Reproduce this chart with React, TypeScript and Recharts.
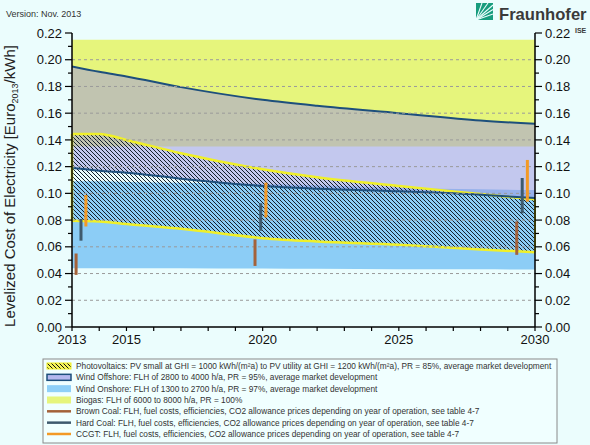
import { ComposedChart, Area, XAxis, YAxis, ReferenceLine } from 'recharts'

const YEARS = [2013, 2014, 2015, 2017, 2020, 2022, 2025, 2028, 2030]

const BIOGAS_LOW = [0.135, 0.135, 0.135, 0.135, 0.135, 0.135, 0.135, 0.135, 0.135]
const BIOGAS_HIGH = [0.215, 0.215, 0.215, 0.215, 0.215, 0.215, 0.215, 0.215, 0.215]
const OFFSHORE_LOW = [0.119, 0.117, 0.1155, 0.111, 0.1055, 0.1035, 0.1015, 0.099, 0.0965]
const OFFSHORE_HIGH = [0.195, 0.191, 0.1875, 0.1795, 0.17, 0.1655, 0.16, 0.1545, 0.152]
const ONSHORE_LOW = [0.044, 0.044, 0.044, 0.044, 0.0437, 0.0435, 0.0433, 0.0432, 0.043]
const ONSHORE_HIGH = [0.109, 0.109, 0.1085, 0.108, 0.107, 0.106, 0.104, 0.103, 0.1025]
const PV_LOW = [0.0795, 0.079, 0.077, 0.0735, 0.0665, 0.064, 0.0615, 0.058, 0.056]
const PV_HIGH = [0.1445, 0.1445, 0.14, 0.13, 0.118, 0.112, 0.1055, 0.0995, 0.0955]

// fossil ranges, drawn as short vertical bars
const BROWN_COAL = [
  { year: 2013.15, low: 0.039, high: 0.055 },
  { year: 2019.72, low: 0.0457, high: 0.0656 },
  { year: 2029.33, low: 0.054, high: 0.079 },
]
const HARD_COAL = [
  { year: 2013.33, low: 0.0646, high: 0.0808 },
  { year: 2019.93, low: 0.072, high: 0.0926 },
  { year: 2029.53, low: 0.085, high: 0.1115 },
]
const CCGT = [
  { year: 2013.51, low: 0.0752, high: 0.0988 },
  { year: 2020.12, low: 0.082, high: 0.108 },
  { year: 2029.72, low: 0.0938, high: 0.125 },
]

const X_TICKS = [2013, 2014, 2015, 2016, 2017, 2018, 2019, 2020, 2021, 2022, 2023, 2024, 2025, 2026, 2027, 2028, 2029, 2030]
const X_LABELS = [2013, 2015, 2020, 2025, 2030]
const Y_TICKS = [0, 0.01, 0.02, 0.03, 0.04, 0.05, 0.06, 0.07, 0.08, 0.09, 0.1, 0.11, 0.12, 0.13, 0.14, 0.15, 0.16, 0.17, 0.18, 0.19, 0.2, 0.21, 0.22]
const GRID = [0.02, 0.04, 0.06, 0.08, 0.1, 0.12, 0.14, 0.16, 0.18, 0.2]

const COLORS = {
  bg: '#ebfdfd',
  biogas: '#e6f57c',
  onshore: '#8ccdf6',
  offshore: '#a097e0',
  offshoreLine: '#1d4f7c',
  pvLine: '#f0f028',
  hatch: '#14202c',
  brown: '#a4623a',
  hard: '#3e5a6e',
  ccgt: '#f39a26',
}

const LEGEND = [
  { kind: 'pv', label: 'Photovoltaics: PV small at GHI = 1000 kWh/(m²a) to PV utility at GHI = 1200 kWh/(m²a), PR = 85%, average market development' },
  { kind: 'offshore', label: 'Wind Offshore: FLH of 2800 to 4000 h/a, PR = 95%, average market development' },
  { kind: 'onshore', label: 'Wind Onshore: FLH of 1300 to 2700 h/a, PR = 97%, average market development' },
  { kind: 'biogas', label: 'Biogas: FLH of 6000 to 8000 h/a, PR = 100%' },
  { kind: 'brown', label: 'Brown Coal: FLH, fuel costs, efficiencies, CO2 allowance prices depending on year of operation, see table 4-7' },
  { kind: 'hard', label: 'Hard Coal: FLH, fuel costs, efficiencies, CO2 allowance prices depending on year of operation, see table 4-7' },
  { kind: 'ccgt', label: 'CCGT: FLH, fuel costs, efficiencies, CO2 allowance prices depending on year of operation, see table 4-7' },
]

const FONT = '"Liberation Sans", Arial, sans-serif'
const TICK_SIZE = 7
const TICK_MARGIN = 3

const table = YEARS.map((year, i) => ({
  year,
  biogas: [BIOGAS_LOW[i], BIOGAS_HIGH[i]],
  onshore: [ONSHORE_LOW[i], ONSHORE_HIGH[i]],
  offshore: [OFFSHORE_LOW[i], OFFSHORE_HIGH[i]],
  pv: [PV_LOW[i], PV_HIGH[i]],
}))

function YTick(props: any) {
  const { x, y, payload, side } = props
  const axisX = x - side * (TICK_SIZE + TICK_MARGIN)
  const major = Math.round(payload.value * 100) % 2 === 0
  const len = major ? 7 : 4
  return (
    <g>
      <line x1={axisX} x2={axisX + side * len} y1={y} y2={y} stroke="#000" strokeWidth={1.2} />
      {major && (
        <text x={x} y={y} dy="0.36em" textAnchor={side < 0 ? 'end' : 'start'} fontSize={13} fill="#111" fontFamily={FONT}>
          {payload.value.toFixed(2)}
        </text>
      )}
    </g>
  )
}

function bars(list: { year: number; low: number; high: number }[], color: string, key: string) {
  return list.map(b => (
    <ReferenceLine
      key={key + b.year}
      segment={[{ x: b.year, y: b.low }, { x: b.year, y: b.high }]}
      stroke={color}
      strokeWidth={3}
    />
  ))
}

function Swatch({ kind, y }: { kind: string; y: number }) {
  const x = 47
  const w = 24
  if (kind === 'pv') {
    return (
      <g>
        <rect x={x} y={y - 3} width={w} height={6} fill="#f4f45c" />
        <rect x={x} y={y - 3} width={w} height={6} fill="url(#hatchLegend)" stroke="#f0f028" strokeWidth={1} />
      </g>
    )
  }
  if (kind === 'offshore') return <rect x={x} y={y - 3} width={w} height={6} fill="#b4b8ee" stroke={COLORS.offshoreLine} strokeWidth={1.5} />
  if (kind === 'onshore') return <rect x={x} y={y - 3.5} width={w} height={7} fill="#8fd0f8" />
  if (kind === 'biogas') return <rect x={x} y={y - 3.5} width={w} height={7} fill={COLORS.biogas} />
  const color = kind === 'brown' ? COLORS.brown : kind === 'hard' ? COLORS.hard : COLORS.ccgt
  return <line x1={x} x2={x + w} y1={y} y2={y} stroke={color} strokeWidth={2.5} />
}

export default function App() {
  return (
    <div style={{ position: 'fixed', left: 0, top: 0, width: 590, height: 445, background: COLORS.bg, fontFamily: FONT, overflow: 'hidden' }}>
      <div style={{ position: 'absolute', left: 0, top: 0 }}>
        <ComposedChart width={590} height={360} data={table} margin={{ top: 33, right: 0, bottom: 8, left: 12 }}>
          <defs>
            <pattern id="hatch" patternUnits="userSpaceOnUse" width={4} height={4}>
              <path d="M-1,-1 L5,5 M-1,3 L1,5 M3,-1 L5,1" stroke={COLORS.hatch} strokeWidth={1} />
            </pattern>
          </defs>
          <XAxis
            dataKey="year"
            type="number"
            domain={[2013, 2030]}
            ticks={X_TICKS}
            interval={0}
            allowDataOverflow
            tickFormatter={(v: number) => (X_LABELS.includes(v) ? String(v) : '')}
            tick={{ fontSize: 13, fill: '#111', fontFamily: FONT }}
            tickSize={4}
            tickMargin={4}
            height={25}
            axisLine={{ stroke: '#000', strokeWidth: 1.5 }}
            tickLine={{ stroke: '#000', strokeWidth: 1.2 }}
          />
          <YAxis
            type="number"
            domain={[0, 0.22]}
            ticks={Y_TICKS}
            interval={0}
            allowDataOverflow
            width={60}
            tickSize={TICK_SIZE}
            tickMargin={TICK_MARGIN}
            tickLine={false}
            tick={(p: any) => <YTick {...p} side={-1} />}
            axisLine={{ stroke: '#000', strokeWidth: 1.5 }}
          />
          <YAxis
            yAxisId="r"
            orientation="right"
            type="number"
            domain={[0, 0.22]}
            ticks={Y_TICKS}
            interval={0}
            allowDataOverflow
            width={55}
            tickSize={TICK_SIZE}
            tickMargin={TICK_MARGIN}
            tickLine={false}
            tick={(p: any) => <YTick {...p} side={1} />}
            axisLine={{ stroke: '#000', strokeWidth: 1.5 }}
          />
          <Area dataKey="biogas" type="monotone" fill={COLORS.biogas} fillOpacity={1} stroke="none" isAnimationActive={false} />
          <Area dataKey="onshore" type="monotone" fill={COLORS.onshore} fillOpacity={1} stroke="none" isAnimationActive={false} />
          <Area dataKey="offshore" type="monotone" fill={COLORS.offshore} fillOpacity={0.52} stroke="none" isAnimationActive={false} />
          {GRID.map(v => (
            <ReferenceLine key={v} y={v} stroke="#9a9a9a" strokeDasharray="3 3" strokeWidth={1} />
          ))}
          <Area dataKey="pv" type="monotone" fill="url(#hatch)" fillOpacity={1} stroke={COLORS.pvLine} strokeWidth={2.5} isAnimationActive={false} />
          <Area dataKey="offshore" type="monotone" fill="none" stroke={COLORS.offshoreLine} strokeWidth={2} isAnimationActive={false} />
          <ReferenceLine segment={[{ x: YEARS[0], y: PV_LOW[0] }, { x: YEARS[0], y: PV_HIGH[0] }]} stroke={COLORS.pvLine} strokeWidth={2.5} />
          <ReferenceLine segment={[{ x: YEARS[YEARS.length - 1], y: PV_LOW[PV_LOW.length - 1] }, { x: YEARS[YEARS.length - 1], y: PV_HIGH[PV_HIGH.length - 1] }]} stroke={COLORS.pvLine} strokeWidth={2} />
          {bars(BROWN_COAL, COLORS.brown, 'b')}
          {bars(HARD_COAL, COLORS.hard, 'h')}
          {bars(CCGT, COLORS.ccgt, 'c')}
        </ComposedChart>
      </div>

      <svg width={590} height={445} style={{ position: 'absolute', left: 0, top: 0, pointerEvents: 'none' }} fontFamily={FONT}>
        <defs>
          <pattern id="hatchLegend" patternUnits="userSpaceOnUse" width={4} height={4}>
            <path d="M-1,-1 L5,5 M-1,3 L1,5 M3,-1 L5,1" stroke="#111" strokeWidth={1} />
          </pattern>
        </defs>

        <text x={6} y={16.5} fontSize={9} fill="#333">Version: Nov. 2013</text>

        {/* Fraunhofer logo */}
        <rect x={476} y={3} width={17} height={17} fill="#179c7d" />
        <g stroke={COLORS.bg} strokeWidth={1.1}>
          <line x1={476} y1={20} x2={493} y2={5} />
          <line x1={476} y1={20} x2={493} y2={9.5} />
          <line x1={476} y1={20} x2={493} y2={14} />
          <line x1={476} y1={20} x2={482} y2={3} />
          <line x1={476} y1={20} x2={488} y2={3} />
        </g>
        <text x={499} y={20} fontSize={16.6} fontWeight="bold" fill="#3a3a3a">Fraunhofer</text>
        <text x={575} y={33} fontSize={7} fontWeight="bold" fill="#3a3a3a">ISE</text>

        <text transform="rotate(-90)" x={-186} y={15} textAnchor="middle" fontSize={15} fill="#222">
          Levelized Cost of Electricity [Euro<tspan fontSize={9} dy={3}>2013</tspan><tspan dy={-3}>/kWh]</tspan>
        </text>

        <rect x={43} y={359} width={514} height={84} fill="#f0ffff" stroke="#8a8a8a" strokeWidth={1} />
        {LEGEND.map((item, i) => {
          const y = 366 + i * 11.33
          return (
            <g key={item.kind}>
              <Swatch kind={item.kind} y={y} />
              <text x={76} y={y} dy="0.35em" fontSize={8.3} fill="#333">{item.label}</text>
            </g>
          )
        })}
      </svg>
    </div>
  )
}
